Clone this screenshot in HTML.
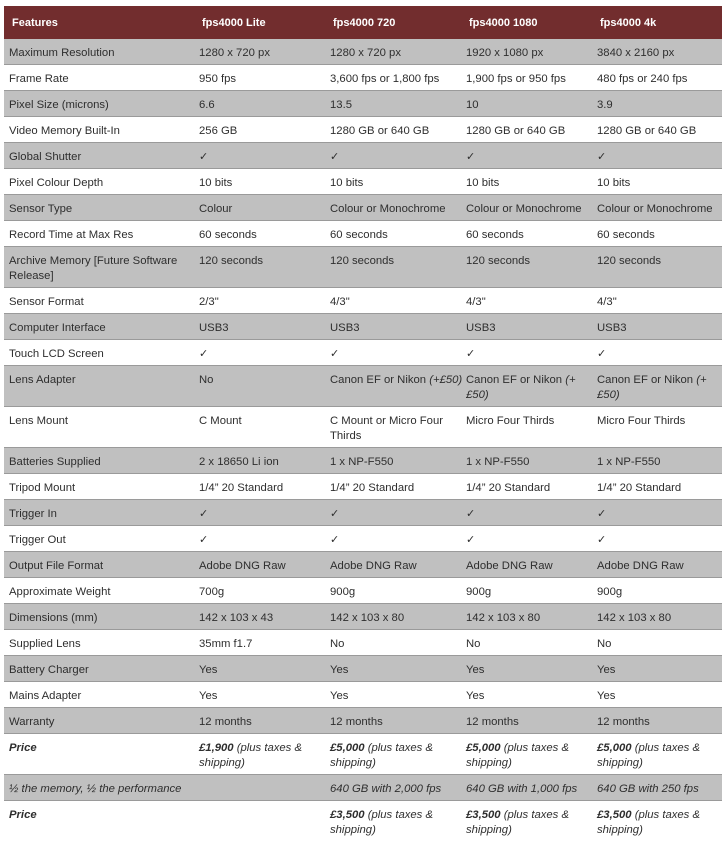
<!DOCTYPE html>
<html>
<head>
<meta charset="utf-8">
<style>
html,body{margin:0;padding:0;background:#fff;width:726px;height:843px;overflow:hidden;}
table{position:absolute;left:4px;top:6px;width:718px;border-collapse:collapse;table-layout:fixed;
  font-family:"Liberation Sans","DejaVu Sans",sans-serif;font-size:11.3px;color:#2e2e2e;}
col.c1{width:190px}col.c2{width:131px}col.c3{width:136px}col.c4{width:131px}col.c5{width:130px}
th{background:#722d2e;color:#fff;font-weight:bold;font-size:11px;text-align:left;height:33px;padding:2px 0 0 8px;line-height:15px;vertical-align:middle;white-space:nowrap;box-sizing:border-box;}
td{padding:7px 0 3px 5px;line-height:15px;vertical-align:top;border-bottom:1px solid #9a9a9a;white-space:nowrap;}
tr.g td{background:#c0c0c0;}
.ck{font-family:"DejaVu Sans",sans-serif;font-size:11px;line-height:8px;}
i b, b i{font-weight:bold;}
tr.last td{border-bottom:none;}
</style>
</head>
<body>
<table>
<colgroup><col class="c1"><col class="c2"><col class="c3"><col class="c4"><col class="c5"></colgroup>
<tr><th>Features</th><th>fps4000 Lite</th><th>fps4000 720</th><th>fps4000 1080</th><th>fps4000 4k</th></tr>
<tr class="g"><td>Maximum Resolution</td><td>1280 x 720 px</td><td>1280 x 720 px</td><td>1920 x 1080 px</td><td>3840 x 2160 px</td></tr>
<tr><td>Frame Rate</td><td>950 fps</td><td>3,600 fps or 1,800 fps</td><td>1,900 fps or 950 fps</td><td>480 fps or 240 fps</td></tr>
<tr class="g"><td>Pixel Size (microns)</td><td>6.6</td><td>13.5</td><td>10</td><td>3.9</td></tr>
<tr><td>Video Memory Built-In</td><td>256 GB</td><td>1280 GB or 640 GB</td><td>1280 GB or 640 GB</td><td>1280 GB or 640 GB</td></tr>
<tr class="g"><td>Global Shutter</td><td><span class="ck">✓</span></td><td><span class="ck">✓</span></td><td><span class="ck">✓</span></td><td><span class="ck">✓</span></td></tr>
<tr><td>Pixel Colour Depth</td><td>10 bits</td><td>10 bits</td><td>10 bits</td><td>10 bits</td></tr>
<tr class="g"><td>Sensor Type</td><td>Colour</td><td>Colour or Monochrome</td><td>Colour or Monochrome</td><td>Colour or Monochrome</td></tr>
<tr><td>Record Time at Max Res</td><td>60 seconds</td><td>60 seconds</td><td>60 seconds</td><td>60 seconds</td></tr>
<tr class="g"><td>Archive Memory [Future Software<br>Release]</td><td>120 seconds</td><td>120 seconds</td><td>120 seconds</td><td>120 seconds</td></tr>
<tr><td>Sensor Format</td><td>2/3"</td><td>4/3"</td><td>4/3"</td><td>4/3"</td></tr>
<tr class="g"><td>Computer Interface</td><td>USB3</td><td>USB3</td><td>USB3</td><td>USB3</td></tr>
<tr><td>Touch LCD Screen</td><td><span class="ck">✓</span></td><td><span class="ck">✓</span></td><td><span class="ck">✓</span></td><td><span class="ck">✓</span></td></tr>
<tr class="g"><td>Lens Adapter<br>&nbsp;</td><td>No</td><td>Canon EF or Nikon <i>(+£50)</i></td><td>Canon EF or Nikon <i>(+<br>£50)</i></td><td>Canon EF or Nikon <i>(+<br>£50)</i></td></tr>
<tr><td>Lens Mount<br>&nbsp;</td><td>C Mount</td><td>C Mount or Micro Four<br>Thirds</td><td>Micro Four Thirds</td><td>Micro Four Thirds</td></tr>
<tr class="g"><td>Batteries Supplied</td><td>2 x 18650 Li ion</td><td>1 x NP-F550</td><td>1 x NP-F550</td><td>1 x NP-F550</td></tr>
<tr><td>Tripod Mount</td><td>1/4” 20 Standard</td><td>1/4” 20 Standard</td><td>1/4” 20 Standard</td><td>1/4” 20 Standard</td></tr>
<tr class="g"><td>Trigger In</td><td><span class="ck">✓</span></td><td><span class="ck">✓</span></td><td><span class="ck">✓</span></td><td><span class="ck">✓</span></td></tr>
<tr><td>Trigger Out</td><td><span class="ck">✓</span></td><td><span class="ck">✓</span></td><td><span class="ck">✓</span></td><td><span class="ck">✓</span></td></tr>
<tr class="g"><td>Output File Format</td><td>Adobe DNG Raw</td><td>Adobe DNG Raw</td><td>Adobe DNG Raw</td><td>Adobe DNG Raw</td></tr>
<tr><td>Approximate Weight</td><td>700g</td><td>900g</td><td>900g</td><td>900g</td></tr>
<tr class="g"><td>Dimensions (mm)</td><td>142 x 103 x 43</td><td>142 x 103 x 80</td><td>142 x 103 x 80</td><td>142 x 103 x 80</td></tr>
<tr><td>Supplied Lens</td><td>35mm f1.7</td><td>No</td><td>No</td><td>No</td></tr>
<tr class="g"><td>Battery Charger</td><td>Yes</td><td>Yes</td><td>Yes</td><td>Yes</td></tr>
<tr><td>Mains Adapter</td><td>Yes</td><td>Yes</td><td>Yes</td><td>Yes</td></tr>
<tr class="g"><td>Warranty</td><td>12 months</td><td>12 months</td><td>12 months</td><td>12 months</td></tr>
<tr><td><i><b>Price</b></i><br>&nbsp;</td><td><i><b>£1,900</b> (plus taxes &amp;<br>shipping)</i></td><td><i><b>£5,000</b> (plus taxes &amp;<br>shipping)</i></td><td><i><b>£5,000</b> (plus taxes &amp;<br>shipping)</i></td><td><i><b>£5,000</b> (plus taxes &amp;<br>shipping)</i></td></tr>
<tr class="g"><td colspan="2"><i>½ the memory, ½ the performance</i></td><td><i>640 GB with 2,000 fps</i></td><td><i>640 GB with 1,000 fps</i></td><td><i>640 GB with 250 fps</i></td></tr>
<tr class="last"><td><i><b>Price</b></i><br>&nbsp;</td><td></td><td><i><b>£3,500</b> (plus taxes &amp;<br>shipping)</i></td><td><i><b>£3,500</b> (plus taxes &amp;<br>shipping)</i></td><td><i><b>£3,500</b> (plus taxes &amp;<br>shipping)</i></td></tr>
</table>
</body>
</html>
